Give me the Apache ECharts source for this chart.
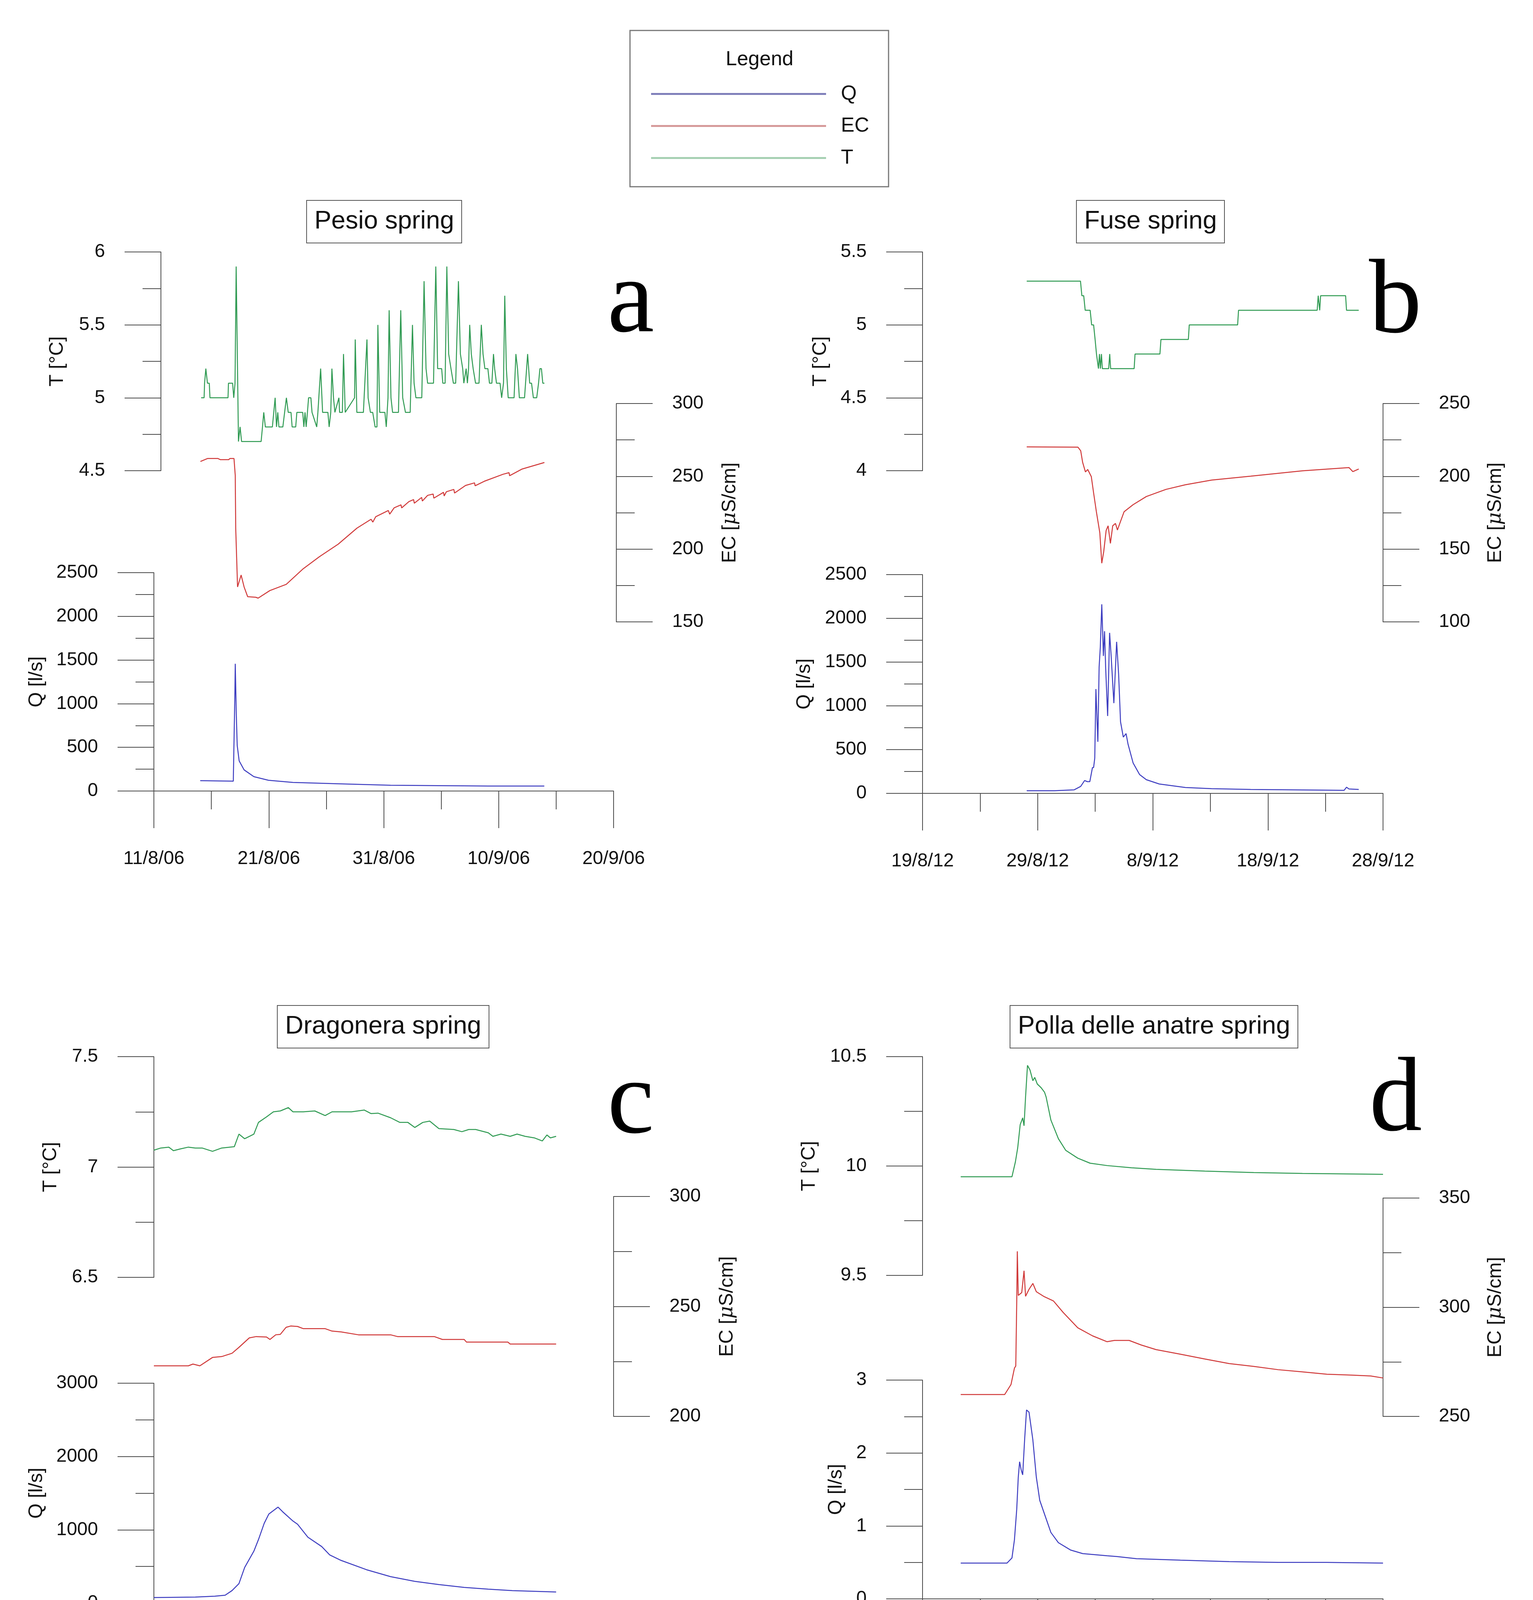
<!DOCTYPE html>
<html>
<head>
<meta charset="utf-8">
<script src="https://cdn.jsdelivr.net/npm/echarts@6/dist/echarts.min.js"></script>
<style>
html, body { margin: 0; padding: 0; background: #fff; }
#chart { width: 3925px; height: 4363px; }
</style>
</head>
<body>
<div id="chart"></div>
<script>
// springs, start dates of the time axes and axis ranges [min, max, step]
var springNames = ['Pesio spring', 'Fuse spring', 'Dragonera spring', 'Polla delle anatre spring'];
var panelLetters = ['a', 'b', 'c', 'd'];
var startDates = [[2006, 8, 11], [2012, 8, 19], [2014, 11, 4], [2018, 1, 4]];
var dayRanges = [[0, 40, 10], [0, 40, 10], [0, 4, 1], [0, 24, 6]];
var tRanges = [[4.5, 6, 0.5], [4, 5.5, 0.5], [6.5, 7.5, 0.5], [9.5, 10.5, 0.5]];
var ecRanges = [[150, 300, 50], [100, 250, 50], [200, 300, 50], [250, 350, 50]];
var qRanges = [[0, 2500, 500], [0, 2500, 500], [0, 3000, 1000], [0, 3, 1]];

// [day since axis start, value]
var pesioT = [[4.11,5.0],[4.37,5.0],[4.41,5.1],[4.52,5.2],[4.66,5.1],[4.82,5.1],[4.88,5.0],[6.45,5.0],[6.49,5.1],[6.85,5.1],[6.95,5.0],[7.06,5.1],[7.16,5.9],[7.36,4.7],[7.50,4.8],[7.63,4.7],[9.33,4.7],[9.45,4.8],[9.56,4.9],[9.70,4.8],[10.31,4.8],[10.55,5.0],[10.67,4.8],[10.78,4.9],[10.88,4.8],[11.22,4.8],[11.53,5.0],[11.69,4.9],[11.93,4.9],[12.03,4.8],[12.34,4.8],[12.44,4.9],[12.95,4.9],[13.05,4.8],[13.15,4.9],[13.25,4.8],[13.36,4.9],[13.46,5.0],[13.66,5.0],[13.76,4.9],[14.17,4.8],[14.27,4.9],[14.51,5.2],[14.68,4.9],[15.14,4.9],[15.25,4.8],[15.39,4.9],[15.49,5.2],[15.63,5.0],[15.75,4.9],[16.10,5.0],[16.16,4.9],[16.40,4.9],[16.50,5.3],[16.65,4.9],[17.46,5.0],[17.52,5.4],[17.66,4.9],[18.23,4.9],[18.54,5.4],[18.64,5.0],[18.84,4.9],[19.04,4.9],[19.25,4.8],[19.41,4.8],[19.49,5.5],[19.65,4.9],[20.10,4.9],[20.22,4.8],[20.37,5.0],[20.47,5.6],[20.63,5.0],[20.77,4.9],[21.28,4.9],[21.48,5.6],[21.65,5.0],[21.89,4.9],[22.30,4.9],[22.50,5.5],[22.64,5.1],[22.80,5.0],[23.31,5.0],[23.51,5.8],[23.68,5.2],[23.82,5.1],[24.33,5.1],[24.53,5.9],[24.69,5.2],[25.04,5.2],[25.14,5.1],[25.34,5.1],[25.49,5.9],[25.65,5.3],[25.85,5.2],[26.06,5.1],[26.26,5.1],[26.50,5.8],[26.67,5.3],[26.87,5.2],[26.97,5.1],[27.17,5.2],[27.28,5.1],[27.38,5.2],[27.48,5.5],[27.62,5.3],[27.78,5.2],[27.99,5.1],[28.29,5.1],[28.49,5.5],[28.64,5.3],[28.80,5.2],[29.06,5.2],[29.20,5.1],[29.41,5.1],[29.55,5.3],[29.65,5.2],[29.81,5.1],[30.12,5.1],[30.26,5.0],[30.42,5.1],[30.53,5.7],[30.67,5.2],[30.83,5.0],[31.34,5.0],[31.50,5.3],[31.64,5.2],[31.80,5.0],[32.25,5.0],[32.52,5.3],[32.70,5.1],[32.86,5.1],[33.02,5.0],[33.31,5.0],[33.47,5.1],[33.59,5.2],[33.72,5.2],[33.84,5.1],[33.98,5.1]];
var pesioEC = [[4.05,260.2],[4.66,262.2],[5.58,262.2],[5.79,261.4],[6.51,261.4],[6.61,262.2],[6.97,262.2],[7.08,250.6],[7.12,214.4],[7.28,174],[7.59,182.2],[7.85,174],[8.16,167.3],[8.87,166.9],[9.07,166.3],[10.09,171.5],[11.52,175.8],[12.95,186.2],[14.41,194.8],[16.04,203.4],[17.67,214.4],[18.9,220.5],[19.05,218.5],[19.30,222.2],[20.4,226.5],[20.52,224],[20.9,228.3],[21.5,230.4],[21.56,228.3],[22.19,232.6],[22.6,234],[22.66,231.5],[23.3,235.5],[23.36,233],[23.82,236.9],[24.3,237.8],[24.36,235],[25.2,239],[25.26,236.5],[25.45,239.4],[26.1,241],[26.16,238.5],[27.12,243.7],[27.9,245.5],[27.95,243.5],[28.75,246.6],[30.38,251.4],[30.9,252.5],[30.95,250.4],[32.01,254.9],[33.98,259.5]];
var pesioQ = [[4.03,119],[6.91,113],[7.05,1139],[7.08,1457],[7.17,883],[7.25,523],[7.42,345],[7.85,242],[8.70,164],[9.97,123],[12.09,98],[16.34,82],[20.59,66],[24.84,62],[29.09,57],[33.97,57]];

var fuseT = [[9.05,5.3],[13.72,5.3],[13.84,5.2],[14.00,5.2],[14.13,5.1],[14.56,5.1],[14.69,5.0],[14.86,5.0],[14.99,4.9],[15.11,4.8],[15.28,4.7],[15.37,4.8],[15.45,4.7],[15.54,4.8],[15.62,4.7],[16.17,4.7],[16.26,4.8],[16.34,4.7],[18.38,4.7],[18.46,4.8],[20.62,4.8],[20.71,4.9],[23.09,4.9],[23.17,5.0],[27.37,5.0],[27.45,5.1],[34.28,5.1],[34.37,5.2],[34.50,5.1],[34.58,5.2],[34.67,5.2],[36.75,5.2],[36.83,5.1],[37.89,5.1]];
var fuseEC = [[9.05,220.2],[13.50,220],[13.74,217.5],[13.91,209.5],[14.15,203],[14.35,204.7],[14.66,199.8],[14.86,188.6],[15.10,175.7],[15.40,161.2],[15.57,140.3],[15.74,148.3],[15.95,162.8],[16.12,166],[16.32,153.9],[16.52,166],[16.76,167.6],[16.93,163.1],[17.17,168.4],[17.51,175.7],[18.29,180.5],[19.44,186.1],[21.14,191],[22.83,194.2],[25.11,197.4],[28.50,200.1],[33.01,203.8],[37.04,206],[37.38,203.2],[37.89,205]];
var fuseQ = [[9.05,30],[11.47,30],[13.16,40],[13.74,80],[14.08,147],[14.31,134],[14.53,134],[14.76,295],[14.86,295],[14.96,402],[15.06,1192],[15.23,589],[15.34,1446],[15.44,1665],[15.57,2161],[15.71,1571],[15.81,1853],[15.91,1424],[16.08,884],[16.25,1835],[16.38,1580],[16.62,1031],[16.86,1732],[17.03,1371],[17.20,817],[17.44,643],[17.68,683],[17.85,563],[18.29,348],[18.86,214],[19.44,156],[20.56,107],[22.83,67],[25.11,54],[28.50,45],[36.62,35],[36.83,70],[37.04,50],[37.89,45]];

var dragoneraT = [[0.0,7.076],[0.06,7.086],[0.13,7.09],[0.17,7.074],[0.23,7.082],[0.30,7.09],[0.36,7.086],[0.42,7.086],[0.51,7.071],[0.59,7.086],[0.66,7.09],[0.70,7.092],[0.74,7.149],[0.79,7.128],[0.87,7.149],[0.91,7.202],[0.98,7.227],[1.04,7.25],[1.10,7.254],[1.17,7.269],[1.21,7.25],[1.30,7.25],[1.40,7.254],[1.49,7.233],[1.55,7.25],[1.72,7.25],[1.83,7.258],[1.89,7.242],[1.95,7.244],[2.06,7.223],[2.14,7.202],[2.21,7.202],[2.27,7.179],[2.34,7.202],[2.40,7.208],[2.48,7.174],[2.61,7.170],[2.68,7.160],[2.74,7.170],[2.80,7.170],[2.91,7.155],[2.95,7.139],[3.02,7.149],[3.10,7.139],[3.16,7.149],[3.23,7.139],[3.31,7.132],[3.38,7.118],[3.42,7.145],[3.45,7.132],[3.50,7.139]];
var dragoneraEC = [[0.0,223],[0.30,223],[0.34,223.8],[0.40,223],[0.51,226.8],[0.59,227.2],[0.68,228.7],[0.74,231.4],[0.83,235.7],[0.89,236.3],[0.98,236.1],[1.01,235.0],[1.06,237.1],[1.10,237.3],[1.15,240.5],[1.19,241.1],[1.25,240.9],[1.30,239.9],[1.49,239.9],[1.55,238.8],[1.63,238.4],[1.78,237.1],[2.06,237.1],[2.12,236.3],[2.44,236.3],[2.51,235.0],[2.70,235.0],[2.72,233.8],[3.08,233.8],[3.10,232.9],[3.50,232.9]];
var dragoneraQ = [[0.0,76],[0.36,82],[0.53,95],[0.62,108],[0.68,171],[0.74,266],[0.79,487],[0.87,709],[0.91,867],[0.96,1089],[1.00,1215],[1.08,1310],[1.12,1247],[1.21,1120],[1.25,1076],[1.34,899],[1.46,772],[1.53,658],[1.63,582],[1.85,456],[2.06,361],[2.27,297],[2.48,253],[2.70,215],[2.91,190],[3.12,171],[3.50,152]];

var pollaT = [[1.99,9.951],[4.66,9.951],[4.84,10.019],[4.96,10.083],[5.09,10.189],[5.22,10.220],[5.29,10.184],[5.37,10.316],[5.47,10.460],[5.60,10.439],[5.75,10.390],[5.85,10.405],[5.98,10.375],[6.18,10.358],[6.36,10.337],[6.44,10.316],[6.69,10.210],[7.08,10.125],[7.46,10.072],[8.09,10.036],[8.73,10.013],[9.62,10.002],[10.89,9.992],[12.17,9.985],[14.71,9.977],[17.26,9.970],[19.80,9.966],[24.0,9.962]];
var pollaEC = [[1.99,260],[4.28,260],[4.61,264.6],[4.79,272.1],[4.86,273.1],[4.91,302.9],[4.94,325.6],[4.99,305.4],[5.17,306.7],[5.29,316.7],[5.37,305.0],[5.55,308.2],[5.75,310.9],[5.93,307.1],[6.31,305],[6.82,302.9],[7.33,297.6],[8.09,290.6],[8.86,286.9],[9.62,284.2],[10.00,284.8],[10.77,284.8],[11.40,282.7],[12.17,280.6],[13.44,278.5],[14.71,276.3],[15.98,274.2],[17.26,272.9],[18.53,271.4],[19.80,270.4],[21.07,269.3],[22.35,268.9],[23.36,268.5],[24.0,267.6]];
var pollaQ = [[1.99,0.49],[4.40,0.49],[4.66,0.56],[4.79,0.81],[4.91,1.23],[4.99,1.67],[5.06,1.88],[5.14,1.77],[5.22,1.70],[5.32,2.18],[5.42,2.59],[5.55,2.56],[5.75,2.18],[5.93,1.67],[6.11,1.35],[6.36,1.16],[6.69,0.91],[7.08,0.77],[7.71,0.67],[8.35,0.62],[9.62,0.59],[10.13,0.58],[11.15,0.55],[13.44,0.53],[15.98,0.51],[18.53,0.50],[21.07,0.50],[24.0,0.49]];

var tData = [pesioT, fuseT, dragoneraT, pollaT];
var ecData = [pesioEC, fuseEC, dragoneraEC, pollaEC];
var qData = [pesioQ, fuseQ, dragoneraQ, pollaQ];

var colors = { Q: '#3c3cc0', EC: '#d03838', T: '#2f9a52' };
var legendColors = { Q: '#7f7fba', EC: '#d69a9a', T: '#a6d0b2' };

// pixel layout of the four panels: x axis left/width, [top, height] of T, EC and Q blocks
var layout = [
    { x: 394, w: 1177, t: [645, 560], ec: [1033, 559], q: [1466, 559], tOff: -18, ecOff: 7, gap: [240, 266, 275], title: [785, 513], letter: [1555, 642] },
    { x: 2362, w: 1179, t: [645, 560], ec: [1033, 559], q: [1471, 560], tOff: 0, ecOff: 0, gap: [236, 263, 277], title: [2756, 513], letter: [3505, 644] },
    { x: 394, w: 1177, t: [2705, 565], ec: [3063, 563], q: [3541, 563], tOff: 0, ecOff: 0, gap: [239, 266, 275], title: [710, 2574], letter: [1555, 2693] },
    { x: 2362, w: 1179, t: [2705, 560], ec: [3067, 559], q: [3533, 560], tOff: 0, ecOff: 0, gap: [265, 263, 196], title: [2586, 2574], letter: [3506, 2687] }
];

var FONT = 'Liberation Sans';
var axisColor = '#4a4a4a';

function dateLabel(p) {
    return function (v) {
        var s = startDates[p];
        var d = new Date(Date.UTC(s[0], s[1] - 1, s[2] + Math.round(v)));
        return d.getUTCDate() + '/' + (d.getUTCMonth() + 1) + '/' + String(d.getUTCFullYear()).slice(2);
    };
}

function yAxis(grid, range, pos, offset, name, gap) {
    return {
        type: 'value', gridIndex: grid, min: range[0], max: range[1], interval: range[2],
        position: pos, offset: offset,
        axisLine: { show: true, onZero: false, lineStyle: { color: axisColor, width: 2 } },
        axisTick: { show: true, length: 93, lineStyle: { color: axisColor, width: 2 } },
        minorTick: { show: true, splitNumber: 2, length: 47, lineStyle: { color: axisColor, width: 2 } },
        splitLine: { show: false },
        axisLabel: { fontSize: 48, margin: 143, color: '#111', fontFamily: FONT, formatter: function (v) { return String(v); } },
        name: name, nameLocation: 'middle', nameGap: gap, nameRotate: 90,
        nameTextStyle: {
            fontSize: 50, color: '#111', fontFamily: FONT,
            rich: { i: { fontSize: 50, fontStyle: 'italic', fontFamily: 'DejaVu Serif', color: '#111' } }
        }
    };
}

var grids = [], xAxes = [], yAxes = [], series = [], titles = [];

layout.forEach(function (L, p) {
    var blocks = [L.t, L.ec, L.q];
    blocks.forEach(function (b, k) {
        grids.push({ left: L.x, width: L.w, top: b[0], height: b[1], outerBoundsMode: 'none', containLabel: false });
        xAxes.push({
            type: 'value', gridIndex: 3 * p + k, min: dayRanges[p][0], max: dayRanges[p][1], interval: dayRanges[p][2],
            show: k === 2, position: 'bottom',
            axisLine: { show: true, onZero: false, lineStyle: { color: axisColor, width: 2 } },
            axisTick: { show: true, length: 95, lineStyle: { color: axisColor, width: 2 } },
            minorTick: { show: true, splitNumber: 2, length: 47, lineStyle: { color: axisColor, width: 2 } },
            splitLine: { show: false },
            axisLabel: { fontSize: 48, margin: 150, color: '#111', fontFamily: FONT, formatter: dateLabel(p) }
        });
    });
    yAxes.push(yAxis(3 * p, tRanges[p], 'left', L.tOff, 'T [°C]', L.gap[0]));
    yAxes.push(yAxis(3 * p + 1, ecRanges[p], 'right', L.ecOff, 'EC [{i|μ}S/cm]', L.gap[1]));
    yAxes.push(yAxis(3 * p + 2, qRanges[p], 'left', 0, 'Q [l/s]', L.gap[2]));

    [['T', tData[p]], ['EC', ecData[p]], ['Q', qData[p]]].forEach(function (s, k) {
        series.push({
            type: 'line', name: s[0], xAxisIndex: 3 * p + k, yAxisIndex: 3 * p + k, data: s[1],
            showSymbol: false, symbol: 'none', silent: true,
            lineStyle: { width: 2.5, color: colors[s[0]] }, itemStyle: { color: colors[s[0]] }
        });
    });

    titles.push({
        text: springNames[p], left: L.title[0], top: L.title[1],
        padding: [19, 20], borderWidth: 2, borderColor: '#555',
        textStyle: { fontSize: 65, lineHeight: 71, fontWeight: 'normal', color: '#111', fontFamily: FONT }
    });
    titles.push({
        text: panelLetters[p], left: L.letter[0], top: L.letter[1], padding: 0,
        textStyle: { fontSize: 270, lineHeight: 270, fontWeight: 'normal', color: '#000', fontFamily: 'Liberation Serif' }
    });
});

titles.push({
    text: 'Legend', left: 1858, top: 127, padding: 0,
    textStyle: { fontSize: 52, lineHeight: 52, fontWeight: 'normal', color: '#111', fontFamily: FONT }
});

var chart = echarts.init(document.getElementById('chart'));
chart.setOption({
    backgroundColor: '#fff',
    animation: false,
    title: titles,
    legend: {
        data: ['Q', 'EC', 'T'].map(function (n) { return { name: n, itemStyle: { color: legendColors[n] } }; }),
        orient: 'vertical', left: 1662, top: 208, icon: 'rect',
        itemWidth: 448, itemHeight: 5, itemGap: 27, selectedMode: false,
        textStyle: { fontSize: 52, lineHeight: 55, color: '#111', fontFamily: FONT, padding: [0, 0, 0, 33] }
    },
    graphic: [{
        type: 'rect', shape: { x: 1613, y: 78, width: 662, height: 400 },
        style: { fill: 'none', stroke: '#777', lineWidth: 3 }, silent: true
    }],
    grid: grids,
    xAxis: xAxes,
    yAxis: yAxes,
    series: series
});
</script>
</body>
</html>
